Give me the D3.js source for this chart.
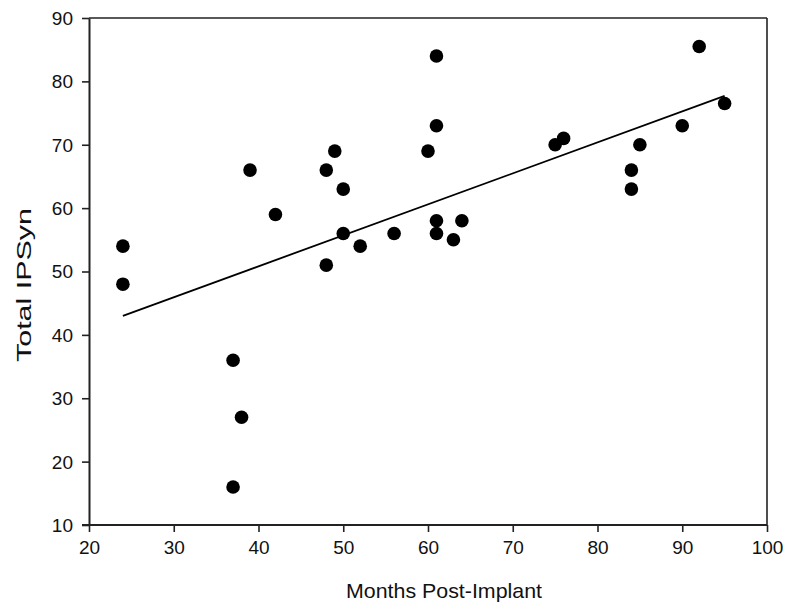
<!DOCTYPE html>
<html>
<head>
<meta charset="utf-8">
<script src="https://cdn.jsdelivr.net/npm/d3@7"></script>
<style>
  html, body { margin: 0; padding: 0; background: #fff; }
  svg { display: block; }
  text { font-family: "Liberation Sans", Arial, sans-serif; fill: #111; }
</style>
</head>
<body>
<svg id="chart" width="788" height="612"></svg>
<script>
// Months post-implant vs. total IPSyn score, one entry per child
const months = [24, 24, 37, 38, 37, 39, 42, 48, 49, 50, 50, 48, 52, 56, 60, 61, 61, 61, 61, 63, 64, 75, 76, 84, 84, 85, 90, 92, 95];
const ipsyn  = [54, 48, 36, 27, 16, 66, 59, 66, 69, 63, 56, 51, 54, 56, 69, 84, 73, 58, 56, 55, 58, 70, 71, 66, 63, 70, 73, 85.5, 76.5];

// Fitted trend line endpoints
const fitX = [24, 95];
const fitY = [43.0, 77.7];

const xTicks = [20, 30, 40, 50, 60, 70, 80, 90, 100];
const yTicks = [10, 20, 30, 40, 50, 60, 70, 80, 90];

const svg = d3.select("#chart");
const plotLeft = 89, plotRight = 767, plotTop = 18, plotBottom = 525;

const x = d3.scaleLinear().domain([20, 100]).range([plotLeft, plotRight]);
const y = d3.scaleLinear().domain([10, 90]).range([plotBottom, plotTop]);

// Frame: top and right edges
svg.append("line").attr("x1", plotLeft).attr("x2", plotRight).attr("y1", plotTop).attr("y2", plotTop)
  .attr("stroke", "#222").attr("stroke-width", 1.6);
svg.append("line").attr("x1", plotRight).attr("x2", plotRight).attr("y1", plotTop).attr("y2", plotBottom)
  .attr("stroke", "#222").attr("stroke-width", 1.6);

// Axes
const xAxis = svg.append("g").attr("transform", `translate(0,${plotBottom})`)
  .call(d3.axisBottom(x).tickValues(xTicks).tickSize(7).tickPadding(9).tickSizeOuter(0));
const yAxis = svg.append("g").attr("transform", `translate(${plotLeft},0)`)
  .call(d3.axisLeft(y).tickValues(yTicks).tickSize(7).tickPadding(9).tickSizeOuter(0));

[xAxis, yAxis].forEach(g => {
  g.select(".domain").attr("stroke", "#222").attr("stroke-width", 2);
  g.selectAll(".tick line").attr("stroke", "#222").attr("stroke-width", 1.6);
  g.selectAll(".tick text")
    .attr("font-family", "Liberation Sans, Arial, sans-serif")
    .attr("font-size", 19).attr("fill", "#111");
});
yAxis.selectAll(".tick text").attr("dy", "0.34em");
// extend x axis slightly left of the y axis
xAxis.select(".domain").attr("d", `M${plotLeft - 7},0H${plotRight}`);

// Trend line
svg.append("line")
  .attr("x1", x(fitX[0])).attr("y1", y(fitY[0]))
  .attr("x2", x(fitX[1])).attr("y2", y(fitY[1]))
  .attr("stroke", "#000").attr("stroke-width", 1.8);

// Points
svg.append("g").selectAll("circle")
  .data(months.map((m, i) => [m, ipsyn[i]]))
  .join("circle")
  .attr("cx", d => x(d[0]))
  .attr("cy", d => y(d[1]))
  .attr("r", 6.8)
  .attr("fill", "#000");

// Axis titles
svg.append("text")
  .attr("x", 444).attr("y", 598)
  .attr("text-anchor", "middle")
  .attr("font-size", 21)
  .attr("textLength", 196).attr("lengthAdjust", "spacingAndGlyphs")
  .text("Months Post-Implant");

svg.append("text")
  .attr("transform", "translate(31,285) rotate(-90)")
  .attr("text-anchor", "middle")
  .attr("font-size", 20)
  .attr("textLength", 154).attr("lengthAdjust", "spacingAndGlyphs")
  .text("Total IPSyn");
</script>
</body>
</html>
